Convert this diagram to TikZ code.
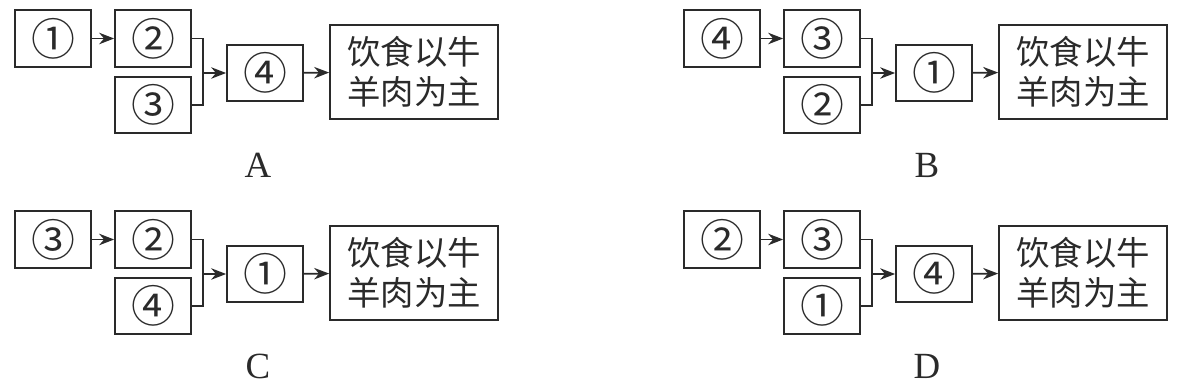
\documentclass[tikz,border=0pt]{standalone}
\usepackage{fontspec}
\setmainfont{Liberation Serif}
\newfontfamily\cjk{Noto Sans CJK SC}
\usetikzlibrary{arrows.meta}
\definecolor{ink}{HTML}{2A2A2A}
\tikzset{
  box/.style={draw=ink,line width=1pt,minimum width=1.52cm,minimum height=1.13cm,inner sep=0pt,
    font=\cjk\fontsize{25}{26}\selectfont,text=ink},
  bigbox/.style={draw=ink,line width=1pt,minimum width=3.36cm,minimum height=1.88cm,inner sep=0pt,
    align=center,font=\cjk\fontsize{19}{23}\selectfont,text=ink},
  lbl/.style={font=\fontsize{21}{24}\selectfont,text=ink,inner sep=0pt},
  conn/.style={draw=ink,line width=1pt},
  arr/.style={conn,-{Stealth[length=3mm,width=2.3mm]}},
}
\newcommand\drawpanel[7]{%
  \begin{scope}[shift={(#1,#2)}]
    \node[box] (#7p1) at (38,28.5) {#3};
    \node[box] (#7p2) at (138,28.5) {#4};
    \node[box] (#7p3) at (138,95) {#5};
    \node[box] (#7p4) at (250,63) {#6};
    \node[bigbox] (#7p5) at (399,62) {饮食以牛\\羊肉为主};
    \node[lbl] (#7l) at (243,155) {#7};
    \coordinate (#7j) at (188,63);
    \draw[arr] (#7p1) -- (#7p2);
    \draw[conn] (#7p2.east) -| (#7j) |- (#7p3.east);
    \draw[arr] (#7j) -- (#7p4);
    \draw[arr] (#7p4) -- (#7p5);
  \end{scope}}
\begin{document}
\begin{tikzpicture}[x=0.02cm,y=-0.02cm]
\useasboundingbox (0,0) rectangle (1186,385);
\drawpanel{15}{10}{①}{②}{③}{④}{A}
\drawpanel{684}{10}{④}{③}{②}{①}{B}
\drawpanel{15}{211}{③}{②}{④}{①}{C}
\drawpanel{684}{211}{②}{③}{①}{④}{D}
\end{tikzpicture}
\end{document}
